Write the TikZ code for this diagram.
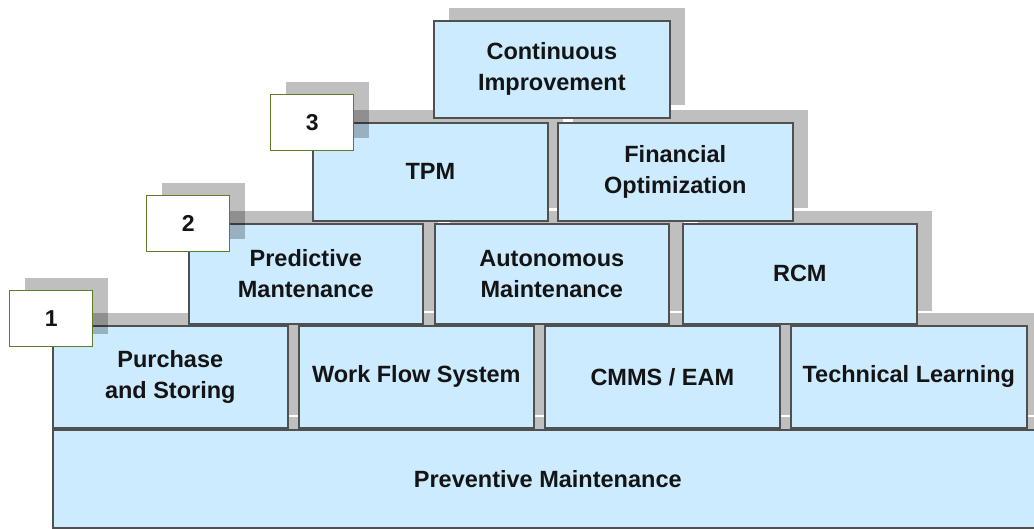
\documentclass[tikz,border=0pt]{standalone}
\usepackage{fontspec}
\setmainfont{Liberation Sans}
\usetikzlibrary{shadows}
\definecolor{boxblue}{HTML}{CCEBFF}
\definecolor{edgegray}{HTML}{505050}
\definecolor{numedge}{HTML}{5E7D2A}
\definecolor{txt}{HTML}{141414}
\begin{document}
\begin{tikzpicture}[x=1pt,y=-1pt,
  shd/.style={drop shadow={shadow xshift=15pt, shadow yshift=13pt, fill=black, opacity=0.25}},
  blk/.style={shd, draw=edgegray, line width=1.6pt, fill=boxblue, anchor=north west,
    align=center, text=txt, inner sep=0pt,
    font=\fontsize{23.5}{31}\selectfont\bfseries},
  num/.style={shd, draw=numedge, line width=1.4pt, fill=white, anchor=north west,
    minimum width=83pt, minimum height=56pt, inner sep=0pt, text=txt,
    font=\fontsize{23}{26}\selectfont\bfseries}
]
\useasboundingbox (0,0) rectangle (1034,529);
% row 0
\node[blk, minimum width=990pt, minimum height=98pt] (pm) at (52,429) {Preventive Maintenance};
% row 1
\node[blk, minimum width=235pt, minimum height=102pt] (ps) at (52,325) {Purchase\\and Storing};
\node[blk, minimum width=235pt, minimum height=102pt] (wf) at (298,325) {Work Flow System};
\node[blk, minimum width=235pt, minimum height=102pt] (cm) at (544,325) {CMMS / EAM};
\node[blk, minimum width=236pt, minimum height=102pt] (tl) at (790,325) {Technical Learning};
% row 2
\node[blk, minimum width=234pt, minimum height=100pt] (pd) at (188,223) {Predictive\\Mantenance};
\node[blk, minimum width=234pt, minimum height=100pt] (am) at (434,223) {Autonomous\\Maintenance};
\node[blk, minimum width=234pt, minimum height=100pt] (rc) at (682,223) {RCM};
% row 3
\node[blk, minimum width=235pt, minimum height=98pt] (tp) at (312,122) {TPM};
\node[blk, minimum width=235pt, minimum height=98pt] (fo) at (557,122) {Financial\\Optimization};
% row 4
\node[blk, minimum width=236pt, minimum height=97pt] (ci) at (433,20) {Continuous\\Improvement};
% level numbers
\node[num] (n1) at (9,290) {1};
\node[num] (n2) at (146,195) {2};
\node[num] (n3) at (270,94) {3};
\end{tikzpicture}
\end{document}
